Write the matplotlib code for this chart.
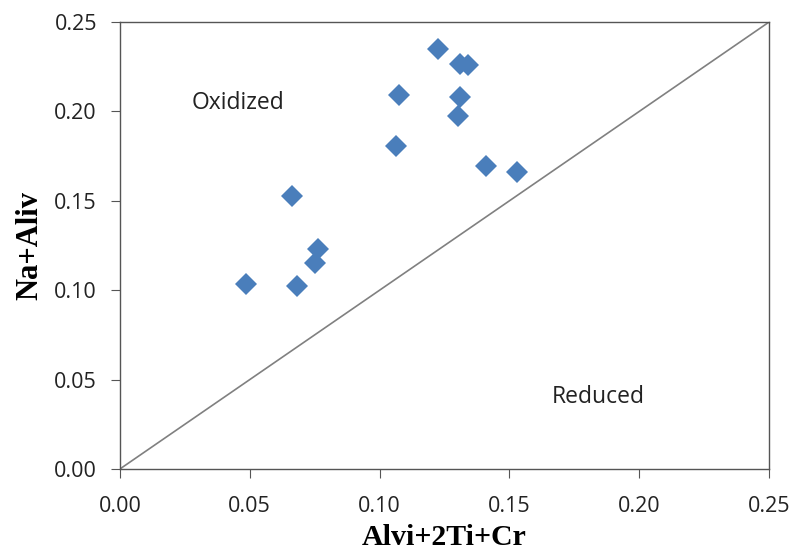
import matplotlib
matplotlib.use('Agg')
import matplotlib.pyplot as plt

# values
alvi_2ti_cr = [0.0487, 0.0664, 0.0684, 0.0762, 0.0753, 0.1074, 0.1065,
               0.1224, 0.1311, 0.1340, 0.1311, 0.1301, 0.1410, 0.1528]
na_aliv = [0.1034, 0.1525, 0.1021, 0.1230, 0.1155, 0.2092, 0.1805,
           0.2350, 0.2266, 0.2258, 0.2081, 0.1975, 0.1693, 0.1663]
ticks = [0.00, 0.05, 0.10, 0.15, 0.20, 0.25]
tick_labels = ["0.00", "0.05", "0.10", "0.15", "0.20", "0.25"]
line_ends = [0.0, 0.25]

fig = plt.figure(figsize=(7.94, 5.59), dpi=100)
ax = fig.add_axes([0.151, 0.161, 0.8175, 0.7995])

ax.plot(line_ends, line_ends, color='#808080', lw=1.2, zorder=1)
ax.plot(alvi_2ti_cr, na_aliv, 'D', color='#4a7ebb', markersize=11,
        markeredgewidth=0, zorder=2)

ax.set_xlim(0, 0.25)
ax.set_ylim(0, 0.25)
ax.set_xticks(ticks)
ax.set_yticks(ticks)
ax.set_xticklabels(tick_labels, fontsize=15.5, family='Open Sans', color='#222222')
ax.set_yticklabels(tick_labels, fontsize=15.5, family='Open Sans', color='#222222')
ax.tick_params(direction='out', length=6.5, color='#555555')
ax.tick_params(axis='y', pad=10)
ax.tick_params(axis='x', pad=13)
for s in ax.spines.values():
    s.set_color('#555555')
    s.set_linewidth(1.0)

ax.set_xlabel('Alvi+2Ti+Cr', fontsize=21.5, fontweight='bold',
              family='Liberation Serif', labelpad=5)
ax.set_ylabel('Na+Aliv', fontsize=22, fontweight='bold',
              family='Liberation Serif', labelpad=7)

ax.text(0.0275, 0.2015, 'Oxidized', fontsize=16.5, family='Open Sans', color='#222222')
ax.text(0.1665, 0.037, 'Reduced', fontsize=16.5, family='Open Sans', color='#222222')

fig.savefig('out.png', dpi=100)
